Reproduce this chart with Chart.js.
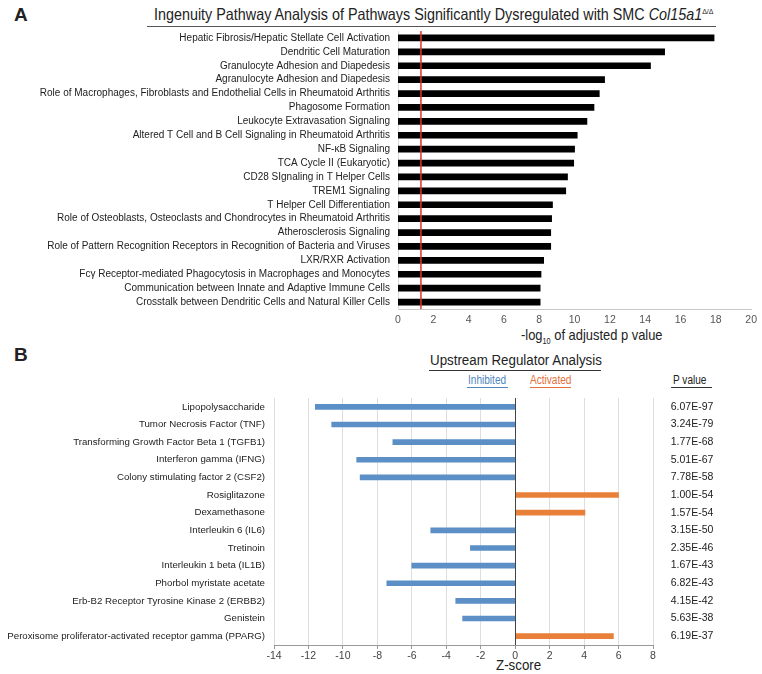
<!DOCTYPE html>
<html>
<head>
<meta charset="utf-8">
<script src="https://cdn.jsdelivr.net/npm/chart.js@4.4.0/dist/chart.umd.min.js"></script>
<style>
  body { margin: 0; background: #fff; width: 762px; height: 674px; position: relative; overflow: hidden; font-family: "Liberation Sans", Arial, sans-serif; color: #222; }
  .abs { position: absolute; white-space: nowrap; }
  .panel { font-weight: bold; font-size: 19px; }
  /* Arial Narrow look-alike */
  .narrow { transform-origin: 0 0; transform: scaleX(0.86); }
  .uline { position: absolute; height: 0; border-top: 1px solid #333; }
  canvas { position: absolute; left: 0; }
</style>
</head>
<body>
<div class="abs panel" style="left:14px; top:4px;">A</div>
<div class="abs narrow" style="left:154px; top:5px; font-size:16.5px; transform:scaleX(0.87);">Ingenuity Pathway Analysis of Pathways Significantly Dysregulated with SMC <i>Col15a1</i><sup style="font-size:8px;">&Delta;/&Delta;</sup></div>
<div class="uline" style="left:147px; width:569px; top:26px; border-color:#555;"></div>
<div class="abs narrow" style="left:521px; top:326px; font-size:15px;">-log<sub style="font-size:8.5px;">10</sub> of adjusted p value</div>

<div class="abs panel" style="left:14px; top:344px;">B</div>
<div class="abs narrow" style="left:430px; top:351px; font-size:15.5px;">Upstream Regulator Analysis</div>
<div class="uline" style="left:429px; width:172px; top:370px;"></div>
<div class="abs narrow" style="left:468px; top:373px; font-size:12px; color:#4f86c0; transform:scaleX(0.84);">Inhibited</div>
<div class="uline" style="left:467px; width:41px; top:387px; border-color:#4f86c0;"></div>
<div class="abs narrow" style="left:530px; top:373px; font-size:12px; color:#e56f3a; transform:scaleX(0.84);">Activated</div>
<div class="uline" style="left:530px; width:41px; top:387px; border-color:#e56f3a;"></div>
<div class="abs narrow" style="left:673px; top:373px; font-size:12px; transform:scaleX(0.84);">P value</div>
<div class="uline" style="left:671px; width:41px; top:387px;"></div>
<div class="abs narrow" style="left:496px; top:656px; font-size:15.5px;">Z-score</div>

<canvas id="top" style="top:0;"></canvas>
<canvas id="bottom" style="top:340px;"></canvas>

<script>
// panel A: pathways and -log10(adjusted p)
const pathways = [
  "Hepatic Fibrosis/Hepatic Stellate Cell Activation",
  "Dendritic Cell Maturation",
  "Granulocyte Adhesion and Diapedesis",
  "Agranulocyte Adhesion and Diapedesis",
  "Role of Macrophages, Fibroblasts and Endothelial Cells in Rheumatoid Arthritis",
  "Phagosome Formation",
  "Leukocyte Extravasation Signaling",
  "Altered T Cell and B Cell Signaling in Rheumatoid Arthritis",
  "NF-\u03baB Signaling",
  "TCA Cycle II (Eukaryotic)",
  "CD28 SIgnaling in T Helper Cells",
  "TREM1 Signaling",
  "T Helper Cell Differentiation",
  "Role of Osteoblasts, Osteoclasts and Chondrocytes in Rheumatoid Arthritis",
  "Atherosclerosis Signaling",
  "Role of Pattern Recognition Receptors in Recognition of Bacteria and Viruses",
  "LXR/RXR Activation",
  "Fc\u03b3 Receptor-mediated Phagocytosis in Macrophages and Monocytes",
  "Communication between Innate and Adaptive Immune Cells",
  "Crosstalk between Dendritic Cells and Natural Killer Cells"
];
const negLogP = [17.9, 15.1, 14.3, 11.7, 11.4, 11.1, 10.7, 10.15, 10.0, 9.95,
                 9.6, 9.5, 8.75, 8.7, 8.65, 8.65, 8.25, 8.1, 8.05, 8.05];
const threshold = 1.3; // -log10(0.05)
const xTicksA = [0, 2, 4, 6, 8, 10, 12, 14, 16, 18, 20];

// panel B: upstream regulators, z-score and p value
const regulators = [
  "Lipopolysaccharide",
  "Tumor Necrosis Factor (TNF)",
  "Transforming Growth Factor Beta 1 (TGFB1)",
  "Interferon gamma (IFNG)",
  "Colony stimulating factor 2 (CSF2)",
  "Rosiglitazone",
  "Dexamethasone",
  "Interleukin 6 (IL6)",
  "Tretinoin",
  "Interleukin 1 beta (IL1B)",
  "Phorbol myristate acetate",
  "Erb-B2 Receptor Tyrosine Kinase 2 (ERBB2)",
  "Genistein",
  "Peroxisome proliferator-activated receptor gamma (PPARG)"
];
const zScores = [-11.6, -10.65, -7.1, -9.2, -9.0, 6.0, 4.05, -4.9, -2.6, -6.0, -7.45, -3.45, -3.05, 5.7];
const pValues = ["6.07E-97", "3.24E-79", "1.77E-68", "5.01E-67", "7.78E-58", "1.00E-54", "1.57E-54",
                 "3.15E-50", "2.35E-46", "1.67E-43", "6.82E-43", "4.15E-42", "5.63E-38", "6.19E-37"];
const xTicksB = [-14, -12, -10, -8, -6, -4, -2, 0, 2, 4, 6, 8];

const BLUE = "#5b8fc6", ORANGE = "#e8803a";
const FONT = "'Liberation Sans', Arial, sans-serif";
Chart.defaults.font.family = FONT;
Chart.defaults.animation = false;

function sizeCanvas(id, h) {
  const c = document.getElementById(id);
  c.width = 762; c.height = h;
  c.style.width = "762px"; c.style.height = h + "px";
  return c;
}

const thresholdLine = {
  id: "thresholdLine",
  afterDatasetsDraw(chart) {
    const { ctx, chartArea, scales } = chart;
    const x = scales.x.getPixelForValue(threshold);
    ctx.save();
    ctx.strokeStyle = "#e0322b";
    ctx.lineWidth = 1.5;
    ctx.beginPath();
    ctx.moveTo(x, chartArea.top);
    ctx.lineTo(x, chartArea.bottom);
    ctx.stroke();
    ctx.restore();
  }
};

new Chart(sizeCanvas("top", 350), {
  type: "bar",
  data: {
    labels: pathways,
    datasets: [{ data: negLogP, backgroundColor: "#000", barThickness: 6 }]
  },
  options: {
    indexAxis: "y",
    responsive: false,
    layout: { padding: { top: 31, right: 5, left: 0, bottom: 0 } },
    plugins: { legend: { display: false }, tooltip: { enabled: false } },
    scales: {
      x: {
        min: 0, max: 20,
        afterBuildTicks: s => { s.ticks = xTicksA.map(v => ({ value: v })); },
        afterFit: s => { s.height = 41; },
        grid: { display: false, drawTicks: false },
        border: { color: "#c8c8c8" },
        ticks: { color: "#555", font: { size: 10.5 }, padding: 5 }
      },
      y: {
        afterFit: s => { s.width = 398; },
        grid: { display: false, drawTicks: false },
        border: { color: "#dcdcdc" },
        ticks: { color: "#222", font: { size: 10 }, padding: 8, autoSkip: false }
      }
    }
  },
  plugins: [thresholdLine]
});

const pValueColumn = {
  id: "pValueColumn",
  afterDatasetsDraw(chart) {
    const { ctx, chartArea, scales } = chart;
    ctx.save();
    ctx.strokeStyle = "#444";
    ctx.lineWidth = 1;
    const x0 = Math.round(scales.x.getPixelForValue(0)) + 0.5;
    ctx.beginPath();
    ctx.moveTo(x0, chartArea.top);
    ctx.lineTo(x0, chartArea.bottom);
    ctx.stroke();
    ctx.fillStyle = "#222";
    ctx.font = "10.5px " + FONT;
    ctx.textAlign = "center";
    ctx.textBaseline = "middle";
    pValues.forEach((p, i) => ctx.fillText(p, chartArea.right + 39, scales.y.getPixelForValue(i)));
    ctx.restore();
  }
};

new Chart(sizeCanvas("bottom", 334), {
  type: "bar",
  data: {
    labels: regulators,
    datasets: [{
      data: zScores,
      backgroundColor: zScores.map(v => v < 0 ? BLUE : ORANGE),
      barThickness: 5
    }]
  },
  options: {
    indexAxis: "y",
    responsive: false,
    layout: { padding: { top: 58, right: 109, left: 0, bottom: 0 } },
    plugins: { legend: { display: false }, tooltip: { enabled: false } },
    scales: {
      x: {
        min: -14, max: 8,
        afterBuildTicks: s => { s.ticks = xTicksB.map(v => ({ value: v })); },
        afterFit: s => { s.height = 29; },
        grid: { color: "#dedede", tickLength: 4, tickColor: "#999" },
        border: { color: "#999" },
        ticks: { color: "#444", font: { size: 10.5 }, padding: 1 }
      },
      y: {
        afterFit: s => { s.width = 274; },
        grid: { display: false, drawTicks: false },
        border: { display: false },
        ticks: { color: "#222", font: { size: 9.7 }, padding: 9, autoSkip: false }
      }
    }
  },
  plugins: [pValueColumn]
});
</script>
</body>
</html>
